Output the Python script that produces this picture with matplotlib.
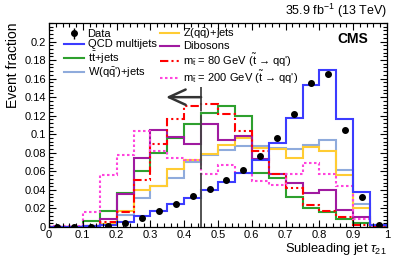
import numpy as np
import matplotlib
matplotlib.use('Agg')
import matplotlib.pyplot as plt
from matplotlib.ticker import MultipleLocator

plt.rcParams['font.family'] = ['Liberation Sans', 'DejaVu Sans']
plt.rcParams['mathtext.fontset'] = 'custom'
plt.rcParams['mathtext.rm'] = 'Liberation Sans'
plt.rcParams['mathtext.it'] = 'Liberation Sans:italic'
plt.rcParams['mathtext.bf'] = 'Liberation Sans:bold'

# bin edges of subleading jet tau21
bin_edges = [0.0, 0.05, 0.1, 0.15, 0.2, 0.25, 0.3, 0.35, 0.4, 0.45, 0.5,
             0.55, 0.6, 0.65, 0.7, 0.75, 0.8, 0.85, 0.9, 0.95, 1.0]
bin_centers = [0.025, 0.075, 0.125, 0.175, 0.225, 0.275, 0.325, 0.375, 0.425, 0.475,
               0.525, 0.575, 0.625, 0.675, 0.725, 0.775, 0.825, 0.875, 0.925, 0.975]

qcd = [0, 0, 0.001, 0.002, 0.005, 0.0115, 0.017, 0.0245, 0.0317, 0.0396,
       0.0486, 0.058, 0.0727, 0.0906, 0.118, 0.153, 0.169, 0.116, 0.0378, 0.0026]
ttbar = [0, 0, 0.006, 0.017, 0.037, 0.060, 0.080, 0.0965, 0.1115, 0.123,
         0.1305, 0.1195, 0.058, 0.053, 0.0324, 0.0205, 0.016, 0.009, 0.004, 0.0005]
wjets = [0, 0, 0.001, 0.003, 0.0126, 0.0317, 0.044, 0.0525, 0.070, 0.0773,
         0.0827, 0.0874, 0.087, 0.0856, 0.0846, 0.088, 0.0935, 0.061, 0.0245, 0.001]
zjets = [0, 0, 0.001, 0.003, 0.017, 0.040, 0.044, 0.063, 0.0725, 0.079,
         0.088, 0.0965, 0.0855, 0.084, 0.0745, 0.0865, 0.082, 0.056, 0.021, 0.001]
dibosons = [0, 0, 0.0015, 0.009, 0.036, 0.0748, 0.1045, 0.0975, 0.089, 0.1115,
            0.0943, 0.0978, 0.0735, 0.0576, 0.0475, 0.0367, 0.0396, 0.018, 0.0108, 0.002]
stop80 = [0, 0, 0.001, 0.0054, 0.016, 0.051, 0.089, 0.116, 0.131, 0.1324,
          0.1223, 0.1032, 0.0817, 0.057, 0.0425, 0.0234, 0.017, 0.011, 0.002, 0]
stop200 = [0.001, 0.001, 0.016, 0.0565, 0.0777, 0.1032, 0.0817, 0.0748, 0.0727, 0.0576,
           0.0673, 0.058, 0.050, 0.045, 0.0568, 0.069, 0.0568, 0.0442, 0.009, 0.001]
data = [0, 0, 0.0005, 0.0015, 0.0045, 0.010, 0.017, 0.0245, 0.033, 0.041,
        0.0505, 0.062, 0.0765, 0.0957, 0.1216, 0.155, 0.1647, 0.105, 0.0324, 0.002]
data_err = [0.0005, 0.0005, 0.0005, 0.0005, 0.0006, 0.0008, 0.001, 0.0012, 0.0013, 0.0014,
            0.0015, 0.0016, 0.0018, 0.002, 0.0022, 0.0025, 0.0026, 0.002, 0.0012, 0.0005]

cut_value = 0.45
cut_top = 0.151
arrow_y = 0.14
arrow_end = 0.346

fig = plt.figure(figsize=(4.07, 2.58), dpi=100)
ax = fig.add_axes([0.1204, 0.12, 0.8305, 0.791])

lw = 1.5
h_w = ax.stairs(wjets, bin_edges, color='#8fabdc', lw=lw, label="W(q$\\mathrm{\\bar{q}}$')+jets")
h_z = ax.stairs(zjets, bin_edges, color='#ffcc33', lw=lw, label='Z(q$\\mathrm{\\bar{q}}$)+jets')
h_tt = ax.stairs(ttbar, bin_edges, color='#2ea02e', lw=lw, label='t$\\mathrm{\\bar{t}}$+jets')
h_vv = ax.stairs(dibosons, bin_edges, color='#a01aa0', lw=lw, label='Dibosons')
h_s80 = ax.stairs(stop80, bin_edges, color='#ff0000', lw=lw, ls=(0, (4, 1.5, 1, 1.5, 1, 1.5)),
                  label="m$_{\\mathrm{\\tilde{t}}}$ = 80 GeV ($\\mathrm{\\tilde{t}}$ → qq')")
h_s200 = ax.stairs(stop200, bin_edges, color='#ff44dd', lw=lw, ls=(0, (1.2, 1.2)),
                   label="m$_{\\mathrm{\\tilde{t}}}$ = 200 GeV ($\\mathrm{\\tilde{t}}$ → qq')")
h_qcd = ax.stairs(qcd, bin_edges, color='#3c3cff', lw=lw, label='QCD multijets')
h_data = ax.errorbar(bin_centers, data, yerr=data_err, fmt='o', color='black',
                     ms=4, elinewidth=1, capsize=0, label='Data', zorder=5)

# cut line and arrow
ax.plot([cut_value, cut_value], [0, cut_top], color='#444444', lw=1.3,
        ls=(0, (30, 2)), zorder=6)
ax.annotate('', xy=(arrow_end, arrow_y), xytext=(cut_value, arrow_y),
            arrowprops=dict(arrowstyle='->,head_length=1.2,head_width=0.55',
                            color='#333333', lw=1.8, mutation_scale=10,
                            shrinkA=0, shrinkB=0), zorder=6)

ax.set_xlim(0, 1)
ax.set_ylim(0, 0.22)
ax.xaxis.set_minor_locator(MultipleLocator(0.02))
ax.yaxis.set_minor_locator(MultipleLocator(0.004))
ax.set_xticks([0, 0.1, 0.2, 0.3, 0.4, 0.5, 0.6, 0.7, 0.8, 0.9, 1.0],
              ['0', '0.1', '0.2', '0.3', '0.4', '0.5', '0.6', '0.7', '0.8', '0.9', '1'])
ax.set_yticks([0, 0.02, 0.04, 0.06, 0.08, 0.1, 0.12, 0.14, 0.16, 0.18, 0.2],
              ['0', '0.02', '0.04', '0.06', '0.08', '0.1', '0.12', '0.14', '0.16', '0.18', '0.2'])
ax.tick_params(which='both', direction='in', top=True, right=True, labelsize=8)
ax.tick_params(which='major', length=5, width=0.8, pad=2)
ax.tick_params(which='minor', length=2.8, width=0.8)
for s in ax.spines.values():
    s.set_linewidth(0.9)

ax.set_xlabel('Subleading jet $\\tau_{21}$', fontsize=9.3, ha='right', x=1.0)
ax.set_ylabel('Event fraction', fontsize=10, ha='right', y=1.0)
ax.xaxis.set_label_coords(1.0, -0.067)
ax.yaxis.set_label_coords(-0.085, 1.0)

ax.text(1.0, 1.015, '35.9 fb$^{-1}$ (13 TeV)', transform=ax.transAxes,
        ha='right', va='bottom', fontsize=9)
ax.text(0.945, 0.955, 'CMS', transform=ax.transAxes, ha='right', va='top',
        fontsize=10, fontweight='bold')

handles = [h_data, h_qcd, h_tt, h_w, h_z, h_vv, h_s80, h_s200]
labels = [h.get_label() for h in handles]
ax.legend(handles, labels, ncol=2, loc='upper left', bbox_to_anchor=(0.045, 0.98),
          frameon=False, fontsize=8, handlelength=1.75, handletextpad=0.35,
          columnspacing=0.3, labelspacing=0.02, borderpad=0, borderaxespad=0)

fig.savefig('out.png', dpi=100)
